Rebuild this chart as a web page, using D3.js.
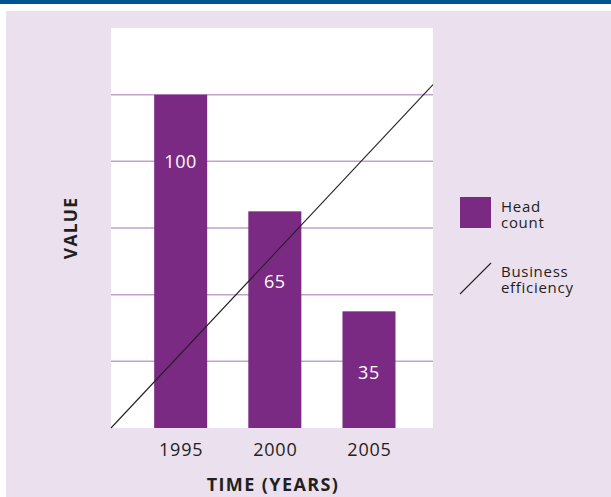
<!DOCTYPE html>
<html>
<head>
<meta charset="utf-8">
<script src="https://cdn.jsdelivr.net/npm/d3@7"></script>
<style>
  body { margin: 0; background: #fff; }
  text { font-family: "Open Sans", sans-serif; }
</style>
</head>
<body>
<div id="chart"></div>
<script>
// chart data
var years = [1995, 2000, 2005];
var headCount = [100, 65, 35];
// where each value label sits inside its bar (value units)
var labelAt = [80, 44, 16.5];
// business efficiency line, ends at the plot edges
var effYears = [1991.3, 2008.4];
var effValues = [0, 103];
var gridValues = [20, 40, 60, 80, 100];
var legendLabels = ["Head", "count", "Business", "efficiency"];

var width = 611,
    height = 497;

var svg = d3.select("#chart")
    .append("svg")
    .attr("width", width)
    .attr("height", height);

// top blue rule and light purple panel
svg.append("rect")
    .attr("x", 0).attr("y", 0)
    .attr("width", width).attr("height", 4)
    .attr("fill", "#005591");
svg.append("rect")
    .attr("x", 6).attr("y", 11)
    .attr("width", width - 6).attr("height", height - 11)
    .attr("fill", "#ebe0ee");

var plot = { left: 111, right: 433, top: 28, bottom: 428 };

// white plot area
svg.append("rect")
    .attr("x", plot.left).attr("y", plot.top)
    .attr("width", plot.right - plot.left)
    .attr("height", plot.bottom - plot.top)
    .attr("fill", "#fff");

var x = d3.scaleLinear()
    .domain([1991.3, 2008.4])
    .range([plot.left, plot.right]);

var y = d3.scaleLinear()
    .domain([0, 120])
    .range([plot.bottom, plot.top]);

var barWidth = 53;

// grid lines
svg.selectAll("grid")
    .data(gridValues)
    .enter()
    .append("line")
    .attr("x1", plot.left)
    .attr("x2", plot.right)
    .attr("y1", function (d) { return y(d); })
    .attr("y2", function (d) { return y(d); })
    .attr("stroke", "#c4a2cb")
    .attr("stroke-width", 1.5);

// bars
svg.selectAll("bars")
    .data(years)
    .enter()
    .append("rect")
    .attr("x", function (d) { return x(d) - barWidth / 2; })
    .attr("y", function (d, i) { return y(headCount[i]); })
    .attr("width", barWidth)
    .attr("height", function (d, i) { return y(0) - y(headCount[i]); })
    .attr("fill", "#7b2a83");

// value labels
svg.selectAll("vals")
    .data(years)
    .enter()
    .append("text")
    .attr("x", function (d) { return x(d); })
    .attr("y", function (d, i) { return y(labelAt[i]); })
    .attr("dy", "0.36em")
    .attr("text-anchor", "middle")
    .attr("fill", "#fff")
    .style("font-size", "18px")
    .style("letter-spacing", "0.6px")
    .text(function (d, i) { return headCount[i]; });

// efficiency line
var line = d3.line()
    .x(function (d) { return x(d[0]); })
    .y(function (d) { return y(d[1]); });
svg.append("path")
    .datum(d3.zip(effYears, effValues))
    .attr("d", line)
    .attr("fill", "none")
    .attr("stroke", "#222")
    .attr("stroke-width", 1.1);

// x axis labels
var xAxis = svg.append("g")
    .attr("transform", "translate(0," + plot.bottom + ")")
    .call(d3.axisBottom(x).tickValues(years).tickFormat(d3.format("d")).tickSize(0).tickPadding(15));
xAxis.select(".domain").remove();
xAxis.selectAll("text")
    .attr("fill", "#231f20")
    .style("font-family", "Open Sans, sans-serif")
    .style("font-size", "18px")
    .style("letter-spacing", "0.8px");

// axis titles
svg.append("text")
    .attr("x", (plot.left + plot.right) / 2 + 1)
    .attr("y", 491)
    .attr("text-anchor", "middle")
    .attr("fill", "#231f20")
    .style("font-size", "18px")
    .style("font-weight", "bold")
    .style("letter-spacing", "1.4px")
    .text("TIME (YEARS)");

svg.append("text")
    .attr("transform", "translate(77,228)rotate(-90)")
    .attr("text-anchor", "middle")
    .attr("fill", "#231f20")
    .style("font-size", "17.5px")
    .style("font-weight", "bold")
    .style("letter-spacing", "1.2px")
    .text("VALUE");

// legend
var legend = svg.append("g").attr("transform", "translate(460,197)");
legend.append("rect")
    .attr("width", 31).attr("height", 31)
    .attr("fill", "#7b2a83");
legend.append("line")
    .attr("x1", 0).attr("y1", 97)
    .attr("x2", 31).attr("y2", 66)
    .attr("stroke", "#222")
    .attr("stroke-width", 1.1);
legend.selectAll("labels")
    .data(legendLabels)
    .enter()
    .append("text")
    .attr("x", 41)
    .attr("y", function (d, i) { return [15, 31, 80, 96][i]; })
    .attr("fill", "#231f20")
    .style("font-size", "15px")
    .style("letter-spacing", "0.7px")
    .text(function (d) { return d; });
</script>
</body>
</html>
